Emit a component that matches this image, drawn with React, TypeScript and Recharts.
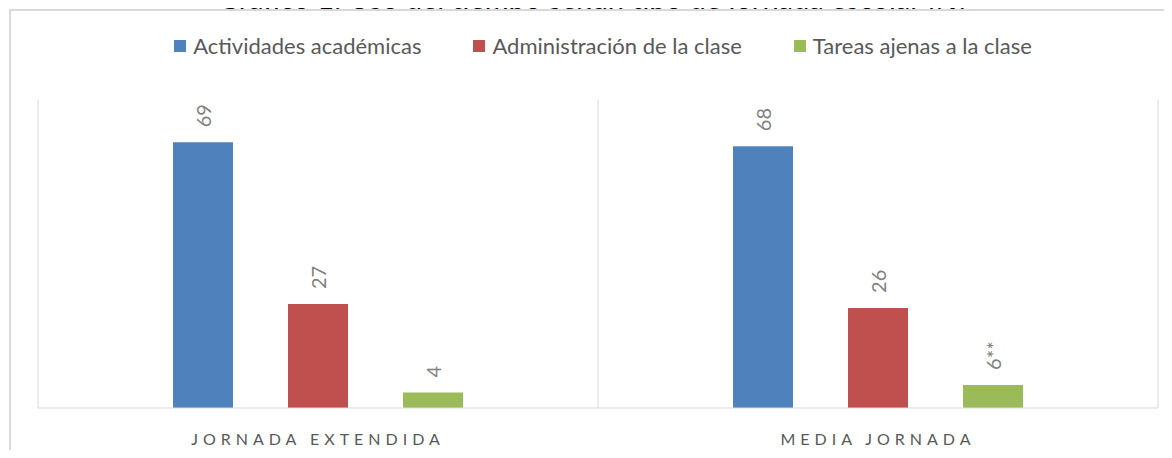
import React from "react";
import {
  BarChart,
  Bar,
  XAxis,
  YAxis,
  CartesianGrid,
  LabelList,
} from "recharts";

const categories = ["JORNADA EXTENDIDA", "MEDIA JORNADA"];
const academicas = [69, 68];
const administracion = [27, 26];
const ajenas = [4, 6];
const ajenasNotas = ["", "**"];

const seriesNames = [
  "Actividades académicas",
  "Administración de la clase",
  "Tareas ajenas a la clase",
];
const seriesKeys = ["academicas", "administracion", "ajenas"];
const seriesColors = ["#4F81BD", "#C0504D", "#9BBB59"];

const data = categories.map((name, i) => ({
  name,
  academicas: academicas[i],
  administracion: administracion[i],
  ajenas: ajenas[i],
}));

const FONT = "Lato, 'Open Sans', sans-serif";

// rotated value label, Excel style
const makeLabel =
  (notes?: string[]) =>
  (props: any) => {
    const { x, y, width, value, index } = props;
    const cx = Number(x) + Number(width) / 2;
    const cy = Number(y) - 15;
    const text = `${value}${notes ? notes[index] ?? "" : ""}`;
    return (
      <text
        x={cx}
        y={cy}
        transform={`rotate(-90, ${cx}, ${cy})`}
        textAnchor="start"
        dominantBaseline="central"
        fill="#808080"
        fontSize={20}
        fontFamily={FONT}
      >
        {text}
      </text>
    );
  };

const CategoryTick = (props: any) => {
  const { x, y, payload } = props;
  return (
    <text
      x={x}
      y={y + 22}
      textAnchor="middle"
      dominantBaseline="central"
      fill="#595959"
      fontSize={16}
      fontFamily={FONT}
      letterSpacing={5}
    >
      {payload.value}
    </text>
  );
};

export default function App() {
  return (
    <div
      style={{
        position: "relative",
        width: 1172,
        height: 458,
        margin: -8,
        overflow: "hidden",
        background: "#fff",
        fontFamily: FONT,
      }}
    >
      <div
        style={{
          position: "absolute",
          top: -20,
          left: 0,
          width: 1172,
          textAlign: "center",
          fontSize: 29,
          color: "#000",
          lineHeight: "35px",
          paddingLeft: 12,
          boxSizing: "border-box",
        }}
      >
        Gráfico 1: Uso del tiempo según tipo de jornada escolar (%)
      </div>
      <div
        style={{
          position: "absolute",
          left: 9,
          top: 9,
          width: 1200,
          height: 500,
          border: "2px solid #d9d9d9",
          boxSizing: "border-box",
          background: "#fff",
        }}
      />
      <div
        style={{
          position: "absolute",
          top: 32,
          left: 0,
          width: 1172,
          display: "flex",
          justifyContent: "center",
          gap: 52,
          fontSize: 22,
          color: "#595959",
          paddingLeft: 34,
          boxSizing: "border-box",
        }}
      >
        {seriesNames.map((n, i) => (
          <div key={n} style={{ display: "flex", alignItems: "center", gap: 7 }}>
            <div style={{ width: 12, height: 12, background: seriesColors[i] }} />
            <span>{n}</span>
          </div>
        ))}
      </div>
      <div style={{ position: "absolute", top: 0, left: 0 }}>
        <BarChart
          width={1172}
          height={458}
          data={data}
          margin={{ top: 100, right: 14, left: 38, bottom: 0 }}
          barSize={60}
          barGap={55}
        >
          <CartesianGrid
            horizontal={false}
            stroke="#d9d9d9"
            verticalCoordinatesGenerator={({ offset }: any) => [
              offset.left,
              offset.left + offset.width / 2,
              offset.left + offset.width,
            ]}
          />
          <XAxis
            dataKey="name"
            height={50}
            tickLine={false}
            axisLine={{ stroke: "#d9d9d9" }}
            tick={<CategoryTick />}
          />
          <YAxis hide domain={[0, 80]} />
          {seriesKeys.map((k, i) => (
            <Bar
              key={k}
              dataKey={k}
              name={seriesNames[i]}
              fill={seriesColors[i]}
              isAnimationActive={false}
            >
              <LabelList
                dataKey={k}
                content={makeLabel(k === "ajenas" ? ajenasNotas : undefined)}
              />
            </Bar>
          ))}
        </BarChart>
      </div>
    </div>
  );
}
